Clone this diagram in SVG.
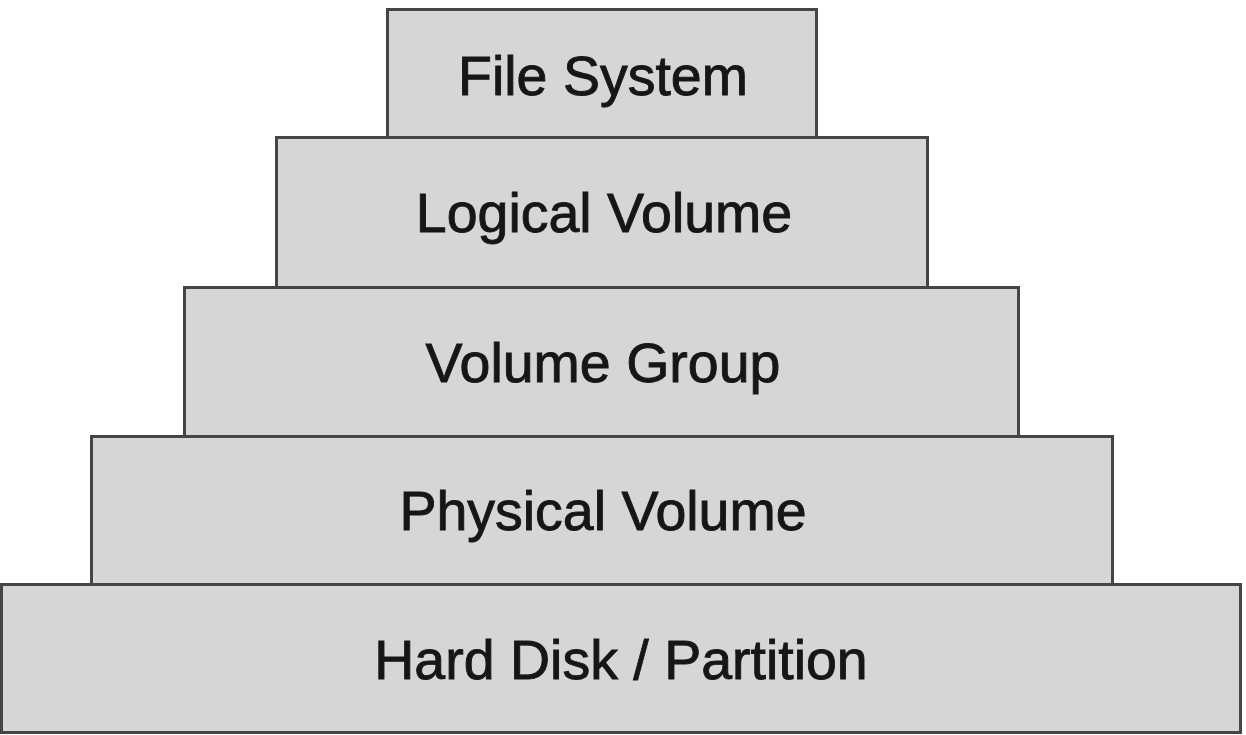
<svg xmlns="http://www.w3.org/2000/svg" width="1246" height="735" viewBox="0 0 1246 735">
  <style>
    .layer rect { fill: #d6d6d6; stroke: #454545; stroke-width: 3; }
    .layer text { font-family: "Liberation Sans", Arial, sans-serif; font-size: 55.5px; fill: #161616; stroke: #161616; stroke-width: 0.9; text-anchor: middle; }
  </style>
  <rect width="1246" height="735" fill="#ffffff"/>
  <!-- LVM stack, bottom to top -->
  <g id="hard-disk" class="layer">
    <rect x="1.5" y="584.5" width="1239" height="148"/>
    <text x="621" y="679">Hard Disk / Partition</text>
  </g>
  <g id="physical-volume" class="layer">
    <rect x="91.5" y="436.5" width="1021" height="148"/>
    <text x="603" y="530">Physical Volume</text>
  </g>
  <g id="volume-group" class="layer">
    <rect x="184.5" y="287.5" width="834" height="149"/>
    <text x="603" y="382">Volume Group</text>
  </g>
  <g id="logical-volume" class="layer">
    <rect x="276.5" y="137.5" width="651" height="150"/>
    <text x="604" y="232">Logical Volume</text>
  </g>
  <g id="file-system" class="layer">
    <rect x="387.5" y="9.5" width="429" height="128"/>
    <text x="603" y="95">File System</text>
  </g>
  <g id="connectors"/>
</svg>
